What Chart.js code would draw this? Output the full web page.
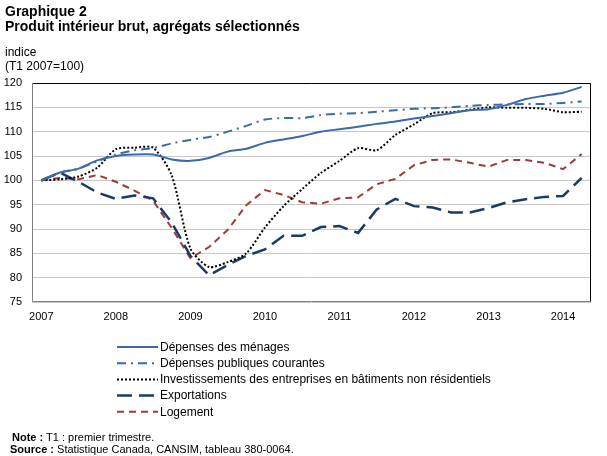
<!DOCTYPE html>
<html>
<head>
<meta charset="utf-8">
<script src="https://cdn.jsdelivr.net/npm/chart.js@4"></script>
<style>
  body { margin: 0; background: #fff; font-family: "Liberation Sans", Arial, sans-serif; color: #000; }
  #wrap { position: relative; width: 607px; height: 456px; }
  canvas { position: absolute; left: 0; top: 0; }
  .txt { position: absolute; white-space: nowrap; }
  .titre { font-weight: bold; font-size: 14px; left: 5px; }
  .petit { font-size: 11px; }
  .unite { font-size: 12px; }
</style>
</head>
<body>
<div id="wrap">
  <canvas id="chart" width="607" height="456"></canvas>
  <div class="txt titre" style="top:3px">Graphique 2</div>
  <div class="txt titre" style="top:18px">Produit intérieur brut, agrégats sélectionnés</div>
  <div class="txt unite" style="left:5px; top:45px">indice</div>
  <div class="txt unite" style="left:5px; top:59px">(T1 2007=100)</div>
  <div class="txt petit" style="left:12px; top:431px"><b>Note :</b> T1 : premier trimestre.</div>
  <div class="txt petit" style="left:10px; top:443px"><b>Source :</b> Statistique Canada, CANSIM, tableau 380-0064.</div>
</div>
<script>
// Données : trimestres T1 2007 à T2 2014 (indice T1 2007 = 100)
const years = ["2007", "2008", "2009", "2010", "2011", "2012", "2013", "2014"];
const quarters = years.flatMap((y) => ["T1", "T2", "T3", "T4"].map((q) => q + " " + y)).slice(0, 30);

const menages = [100, 101.6, 102.4, 104.1, 105.0, 105.3, 105.3, 104.3, 104.0, 104.6,
  105.9, 106.5, 107.7, 108.4, 109.1, 110.0, 110.5, 111.0, 111.6, 112.1,
  112.7, 113.2, 113.8, 114.4, 114.6, 115.5, 116.7, 117.4, 118.0, 119.2];
const publiques = [100, 101.6, 102.4, 103.9, 105.3, 106.2, 106.6, 107.6, 108.3, 108.9,
  110.0, 111.2, 112.5, 112.8, 112.8, 113.4, 113.7, 113.8, 114.1, 114.4,
  114.7, 114.8, 115.0, 115.3, 115.5, 115.6, 115.7, 115.7, 115.9, 116.2];
const investissements = [100, 100.2, 100.8, 102.6, 106.4, 106.7, 106.7, 101.0, 86.0, 82.2,
  83.2, 85.0, 90.3, 94.7, 98.2, 101.5, 104.0, 106.6, 106.2, 109.3,
  111.5, 113.8, 114.0, 114.5, 115.0, 114.9, 114.9, 114.7, 114.0, 114.1];
const exportations = [100, 101.6, 99.7, 97.5, 96.2, 96.9, 96.3, 91.3, 84.5, 80.5,
  82.6, 84.5, 85.8, 88.6, 88.6, 90.4, 90.6, 89.2, 94.0, 96.2,
  94.7, 94.4, 93.4, 93.4, 94.3, 95.5, 96.1, 96.6, 96.8, 100.5];
const logement = [100, 100.5, 100.2, 101.1, 99.7, 97.9, 95.8, 90.2, 84.0, 86.3,
  89.8, 94.9, 98.0, 97.0, 95.5, 95.2, 96.3, 96.5, 99.2, 100.3,
  103.1, 104.2, 104.3, 103.6, 102.8, 104.2, 104.2, 103.6, 102.3, 105.4];

const fontFam = '"Liberation Sans", Arial, sans-serif';

// Cadre + légende dessinée à la main (liste verticale sous le graphique)
const legendePlugin = {
  id: "legende",
  afterDraw(chart) {
    const ctx = chart.ctx;
    ctx.save();
    // cadre : haut et droite noirs, gauche et bas gris
    const a = chart.chartArea;
    ctx.lineWidth = 1;
    ctx.strokeStyle = "#000";
    ctx.beginPath();
    ctx.moveTo(a.left, a.top + 0.5);
    ctx.lineTo(a.right - 0.5, a.top + 0.5);
    ctx.lineTo(a.right - 0.5, a.bottom);
    ctx.stroke();
    ctx.strokeStyle = "#808080";
    ctx.beginPath();
    ctx.moveTo(a.left + 0.5, a.top);
    ctx.lineTo(a.left + 0.5, a.bottom - 0.5);
    ctx.lineTo(a.right, a.bottom - 0.5);
    ctx.stroke();

    ctx.font = "12px " + fontFam;
    ctx.textBaseline = "middle";
    ctx.fillStyle = "#000";
    chart.data.datasets.forEach((ds, i) => {
      const y = 347 + i * 16.2;
      ctx.strokeStyle = ds.borderColor;
      ctx.lineWidth = ds.borderWidth;
      ctx.setLineDash(ds.borderDash || []);
      ctx.beginPath();
      ctx.moveTo(117, y);
      ctx.lineTo(158, y);
      ctx.stroke();
      ctx.setLineDash([]);
      ctx.fillText(ds.label, 160, y + 0.5);
    });
    ctx.restore();
  },
};

const ctx = document.getElementById("chart").getContext("2d");
new Chart(ctx, {
  type: "line",
  data: {
    labels: quarters,
    datasets: [
      {
        label: "Dépenses des ménages",
        data: menages,
        borderColor: "#3b6aa8",
        borderWidth: 2,
        tension: 0.25,
      },
      {
        label: "Dépenses publiques courantes",
        data: publiques,
        borderColor: "#3b6aa8",
        borderWidth: 2,
        borderDash: [9, 5, 2, 5],
        tension: 0.25,
      },
      {
        label: "Investissements des entreprises en bâtiments non résidentiels",
        data: investissements,
        borderColor: "#000000",
        borderWidth: 2,
        borderDash: [2, 2],
        tension: 0.25,
      },
      {
        label: "Exportations",
        data: exportations,
        borderColor: "#1b3a64",
        borderWidth: 2.5,
        borderDash: [15, 7],
        tension: 0,
      },
      {
        label: "Logement",
        data: logement,
        borderColor: "#a3383a",
        borderWidth: 2,
        borderDash: [7, 5],
        tension: 0,
      },
    ],
  },
  options: {
    responsive: false,
    animation: false,
    events: [],
    elements: { point: { radius: 0 } },
    layout: { padding: { left: 0, top: 83, right: 16, bottom: 134 } },
    plugins: { legend: { display: false }, tooltip: { enabled: false } },
    scales: {
      x: {
        offset: true,
        grid: { display: false, drawTicks: false },
        border: { display: false },
        afterFit: (s) => { s.height = 20; },
        ticks: {
          autoSkip: false,
          maxRotation: 0,
          padding: 8,
          color: "#000",
          font: { family: fontFam, size: 11 },
          callback: (v, i) => (i % 4 === 0 ? years[i / 4] : ""),
        },
      },
      y: {
        min: 75,
        max: 120,
        grid: { color: "#c8c8c8", drawTicks: false },
        border: { display: false },
        afterFit: (s) => { s.width = 32; },
        ticks: {
          stepSize: 5,
          padding: 10,
          color: "#000",
          font: { family: fontFam, size: 11 },
        },
      },
    },
  },
  plugins: [legendePlugin],
});
</script>
</body>
</html>
